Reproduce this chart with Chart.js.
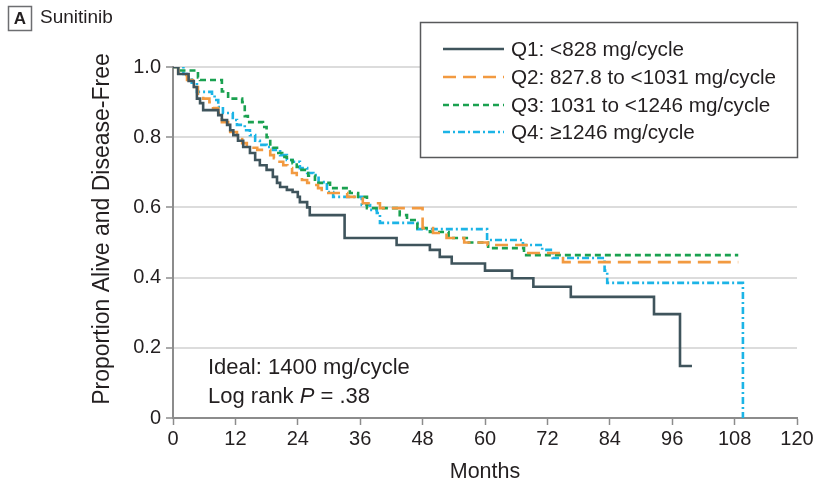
<!DOCTYPE html>
<html>
<head>
<meta charset="utf-8">
<title>Sunitinib</title>
<script src="https://cdn.jsdelivr.net/npm/chart.js@4.4.1/dist/chart.umd.min.js"></script>
<style>
  html, body { margin: 0; padding: 0; background: #fff; }
  #wrap { width: 817px; height: 488px; }
</style>
</head>
<body>
<div id="wrap"><canvas id="km" width="817" height="488"></canvas></div>
<script>
// Kaplan-Meier steps (months, proportion alive and disease-free)
const q1Months = [0, 1, 3, 4, 4.6, 5.2, 5.8, 8.7, 9.4, 10.4, 11, 11.6, 12.5, 13.5, 14.8, 15.8, 16.7, 18, 19.2, 20, 20.6, 21.9, 23, 24, 24.4, 25.8, 26.3, 33, 43, 49.4, 51.3, 53.6, 60, 65.2, 69.3, 76.5, 92.5, 97.5, 99.8];
const q1Surv = [1.0, 0.98, 0.96, 0.943, 0.91, 0.897, 0.877, 0.863, 0.849, 0.835, 0.82, 0.806, 0.79, 0.772, 0.755, 0.735, 0.72, 0.707, 0.687, 0.67, 0.658, 0.65, 0.644, 0.63, 0.615, 0.6, 0.578, 0.513, 0.493, 0.479, 0.459, 0.44, 0.42, 0.398, 0.374, 0.345, 0.296, 0.148, 0.148];

const q2Months = [0, 1, 2.7, 3.8, 4.8, 5.8, 7, 7.7, 8.7, 9.4, 10.6, 11, 12.3, 13.3, 14.2, 14.8, 16.2, 18.7, 19.4, 20, 21.2, 22, 22.9, 23.8, 24.8, 25.8, 27, 27.9, 28.6, 33.5, 36.5, 39.8, 48, 50, 52.6, 56, 60.5, 68, 75, 108.7];
const q2Surv = [1.0, 0.977, 0.963, 0.943, 0.92, 0.91, 0.9, 0.883, 0.869, 0.843, 0.835, 0.815, 0.806, 0.783, 0.778, 0.77, 0.764, 0.749, 0.74, 0.73, 0.72, 0.712, 0.698, 0.687, 0.678, 0.67, 0.664, 0.655, 0.641, 0.63, 0.612, 0.598, 0.541, 0.527, 0.513, 0.5, 0.493, 0.47, 0.444, 0.444];

const q3Months = [0, 1, 4.8, 5.2, 9.4, 10.6, 13.3, 13.8, 14.4, 17.3, 18, 18.7, 20, 21, 21.9, 23, 23.8, 24.4, 26, 27.3, 30.2, 34, 35.6, 37.3, 43.6, 45, 47, 49.4, 53, 56.5, 60.6, 67.5, 108.7];
const q3Surv = [1.0, 0.99, 0.97, 0.963, 0.93, 0.91, 0.9, 0.86, 0.843, 0.829, 0.8, 0.77, 0.755, 0.744, 0.735, 0.726, 0.715, 0.707, 0.69, 0.67, 0.655, 0.641, 0.63, 0.598, 0.578, 0.564, 0.541, 0.53, 0.513, 0.5, 0.484, 0.464, 0.464];

const q4Months = [0, 2, 3, 3.6, 4.6, 7.5, 8, 8.7, 9.6, 11.5, 12.3, 13.8, 14.8, 15.8, 16.7, 18, 19.2, 20.6, 21.9, 23, 24.4, 25.8, 27, 28, 29.6, 30.8, 36.3, 37.9, 39.2, 39.8, 47, 60.4, 67.3, 71, 73, 83, 83.5, 109.6];
const q4Surv = [1.0, 0.98, 0.97, 0.955, 0.929, 0.92, 0.906, 0.886, 0.869, 0.849, 0.835, 0.82, 0.806, 0.79, 0.778, 0.772, 0.764, 0.749, 0.735, 0.73, 0.712, 0.698, 0.692, 0.672, 0.644, 0.63, 0.607, 0.593, 0.584, 0.556, 0.538, 0.507, 0.493, 0.479, 0.456, 0.42, 0.385, 0.0];

const seriesLabels = ['Q1: <828 mg/cycle', 'Q2: 827.8 to <1031 mg/cycle', 'Q3: 1031 to <1246 mg/cycle', 'Q4: \u22651246 mg/cycle'];
const xTicks = [0, 12, 24, 36, 48, 60, 72, 84, 96, 108, 120];
const yTicks = [0, 0.2, 0.4, 0.6, 0.8, 1.0];

const FONT = '"Liberation Sans", Arial, sans-serif';
const AXIS_GRAY = '#8c8c8c';
const TEXT = '#231f20';

function pts(xs, ys) {
    return xs.map((x, i) => ({ x: x, y: ys[i] }));
}

function line(label, xs, ys, color, dash) {
    return {
        label: label,
        data: pts(xs, ys),
        borderColor: color,
        backgroundColor: color,
        borderWidth: 2.6,
        borderDash: dash,
        stepped: true, // hold the value, then drop at the next event
        pointRadius: 0,
        fill: false
    };
}

// header, axis titles, annotation and the boxed legend
const decor = {
    id: 'decor',
    afterDraw(chart) {
        const ctx = chart.ctx;
        ctx.save();

        // "A" panel tag
        ctx.strokeStyle = '#6d6e71';
        ctx.lineWidth = 1.5;
        ctx.strokeRect(8.5, 6.5, 23, 24);
        ctx.fillStyle = TEXT;
        ctx.font = 'bold 17px ' + FONT;
        ctx.textAlign = 'center';
        ctx.textBaseline = 'middle';
        ctx.fillText('A', 20, 19);
        ctx.font = '19px ' + FONT;
        ctx.textAlign = 'left';
        ctx.fillText('Sunitinib', 40, 18);

        // axis titles
        ctx.font = '21.5px ' + FONT;
        ctx.textAlign = 'center';
        ctx.fillText('Months', 485, 472);
        ctx.save();
        ctx.translate(103, 229);
        ctx.rotate(-Math.PI / 2);
        ctx.font = '23px ' + FONT;
        ctx.fillText('Proportion Alive and Disease-Free', 0, 0);
        ctx.restore();

        // annotation
        ctx.textAlign = 'left';
        ctx.font = '22px ' + FONT;
        ctx.fillText('Ideal: 1400 mg/cycle', 208, 368);
        let x = 208;
        const parts = [['Log rank ', ''], ['P', 'italic '], [' = .38', '']];
        parts.forEach(p => {
            ctx.font = p[1] + '22px ' + FONT;
            ctx.fillText(p[0], x, 397);
            x += ctx.measureText(p[0]).width;
        });

        // legend box
        ctx.fillStyle = '#fff';
        ctx.fillRect(421, 23, 376, 134);
        ctx.strokeStyle = '#58595b';
        ctx.lineWidth = 1.5;
        ctx.strokeRect(420.5, 22.5, 377, 135);
        const rows = [49, 77, 105, 132];
        chart.data.datasets.forEach((ds, i) => {
            ctx.strokeStyle = ds.borderColor;
            ctx.lineWidth = ds.borderWidth;
            ctx.setLineDash(ds.borderDash || []);
            ctx.beginPath();
            ctx.moveTo(443, rows[i]);
            ctx.lineTo(504, rows[i]);
            ctx.stroke();
            ctx.setLineDash([]);
            ctx.fillStyle = TEXT;
            ctx.font = '20.7px ' + FONT;
            ctx.textBaseline = 'middle';
            ctx.fillText(ds.label, 511, rows[i] + 1);
        });
        ctx.restore();
    }
};

const chart = new Chart(document.getElementById('km'), {
    type: 'line',
    data: {
        datasets: [
            line(seriesLabels[0], q1Months, q1Surv, '#3f545c', []),
            line(seriesLabels[1], q2Months, q2Surv, '#f29a41', [13, 7]),
            line(seriesLabels[2], q3Months, q3Surv, '#1aa150', [6, 4]),
            line(seriesLabels[3], q4Months, q4Surv, '#1cb4e6', [7, 3, 2, 3])
        ]
    },
    options: {
        responsive: false,
        animation: false,
        layout: { padding: { left: 0, right: 20, top: 67, bottom: 0 } },
        plugins: {
            legend: { display: false },
            tooltip: { enabled: false }
        },
        scales: {
            x: {
                type: 'linear',
                min: 0,
                max: 120,
                afterBuildTicks: scale => { scale.ticks = xTicks.map(v => ({ value: v })); },
                afterFit: scale => { scale.height = 70; },
                grid: { drawOnChartArea: false, drawTicks: true, tickLength: 7, tickColor: AXIS_GRAY, tickWidth: 1.5 },
                border: { color: AXIS_GRAY, width: 2 },
                ticks: { color: TEXT, font: { family: FONT, size: 20 }, padding: 2, maxRotation: 0, autoSkip: false }
            },
            y: {
                min: 0,
                max: 1,
                afterBuildTicks: scale => { scale.ticks = yTicks.map(v => ({ value: v })); },
                afterFit: scale => { scale.width = 173; },
                grid: { color: '#dcdcdc', lineWidth: 2, drawTicks: true, tickLength: 7, tickColor: AXIS_GRAY, tickWidth: 1.5 },
                border: { color: AXIS_GRAY, width: 2 },
                ticks: {
                    color: TEXT,
                    font: { family: FONT, size: 20 },
                    padding: 5,
                    callback: v => (v === 0 ? '0' : v.toFixed(1))
                }
            }
        }
    },
    plugins: [decor]
});
</script>
</body>
</html>
